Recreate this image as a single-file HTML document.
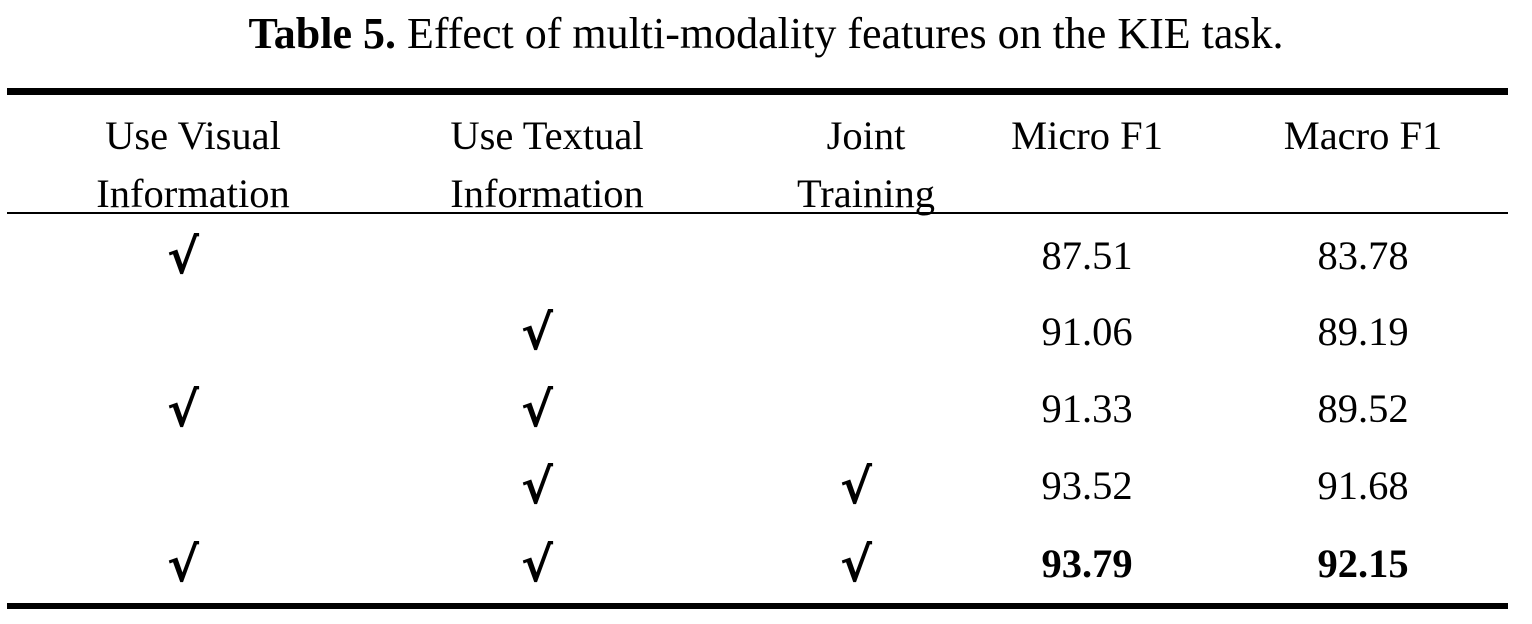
<!DOCTYPE html>
<html><head><meta charset="utf-8"><style>
body{margin:0;width:1532px;height:624px;background:#fff;position:relative;overflow:hidden;font-family:"Liberation Serif",serif;color:#000}
.t{position:absolute;font-size:40.5px;line-height:1;white-space:nowrap;transform:translateX(-50%)}
.r{position:absolute;background:#000;left:7px;width:1501px}
.ck{font-family:"DejaVu Sans",sans-serif;font-weight:bold;font-size:48px}
b{font-weight:bold}
</style></head><body>
<div class="t" style="left:766px;top:12px;font-size:44px"><b>Table 5.</b> Effect of multi-modality features on the KIE task.</div>
<div class="r" style="top:88px;height:7px"></div>
<div class="r" style="top:212px;height:2px"></div>
<div class="r" style="top:603px;height:6px"></div>
<div id="tbl"></div>
<script>
const headers=[["Use Visual","Information"],["Use Textual","Information"],["Joint","Training"],["Micro F1",""],["Macro F1",""]];
const visual=[1,0,1,0,1];
const textual=[0,1,1,1,1];
const joint=[0,0,0,1,1];
const micro=["87.51","91.06","91.33","93.52","93.79"];
const macro=["83.78","89.19","89.52","91.68","92.15"];
const bold=[0,0,0,0,1];
const colX=[193,547,866,1087,1363];
const rowTop=[236,312,389,466,544];
const tb=document.getElementById('tbl');
function add(txt,x,y,cls,name){const d=document.createElement('div');d.className='t'+(cls?' '+cls:'');d.textContent=txt;d.style.left=x+'px';d.style.top=y+'px';


tb.appendChild(d);return d;}
headers.forEach((h,i)=>{add(h[0],colX[i],116,'','header-cell');if(h[1])add(h[1],colX[i],174,'','header-cell');});
for(let r=0;r<micro.length;r++){
 [visual,textual,joint].forEach((a,c)=>{if(a[r])add('√',colX[c]-10,rowTop[r]-3,'ck','check-mark');});
 const m=add(micro[r],colX[3],rowTop[r],'','micro-f1-cell');
 const n=add(macro[r],colX[4],rowTop[r],'','macro-f1-cell');
 if(bold[r]){m.style.fontWeight='bold';n.style.fontWeight='bold';}
}
</script>
</body></html>
